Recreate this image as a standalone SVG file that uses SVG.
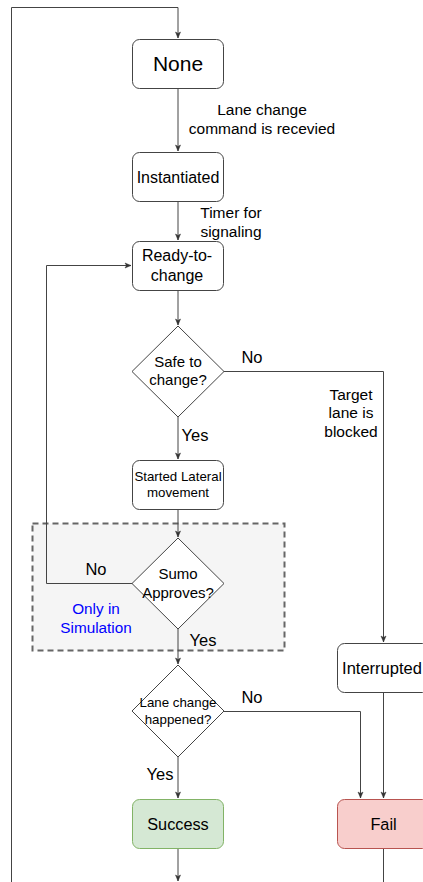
<svg xmlns="http://www.w3.org/2000/svg" width="423" height="882" viewBox="0 0 423 882">
<style>
text{font-family:"Liberation Sans",Arial,sans-serif;fill:#000;text-anchor:middle}
.box{fill:#fff;stroke:#444;stroke-width:1}
.edge{fill:none;stroke:#444;stroke-width:1}
.lbl{font-size:15.5px}
.yn{font-size:16.5px}
</style>
<defs>
<marker id="ah" markerWidth="8" markerHeight="8" refX="7" refY="4" orient="auto" markerUnits="userSpaceOnUse">
<path d="M1,1.5 L7,4 L1,6.5 L2.5,4 Z" fill="#333" stroke="#333" stroke-width="0.5"/>
</marker>
</defs>
<rect x="0" y="0" width="423" height="882" fill="#fff"/>
<g id="sim-region">
<rect x="32.5" y="523.5" width="252" height="127" fill="#f5f5f5" stroke="#666" stroke-width="2" stroke-dasharray="6,4"/>
<text x="96" y="614" style="font-size:15.3px;fill:#0000ff">Only in</text>
<text x="96" y="633" style="font-size:15.3px;fill:#0000ff">Simulation</text>
</g>
<g id="connectors">
<path class="edge" d="M11.5,882 V7.5 H178 V38" marker-end="url(#ah)"/>
<path class="edge" d="M178,88 V151" marker-end="url(#ah)"/>
<path class="edge" d="M178,201 V240" marker-end="url(#ah)"/>
<path class="edge" d="M178,290 V325" marker-end="url(#ah)"/>
<path class="edge" d="M178,417 V459" marker-end="url(#ah)"/>
<path class="edge" d="M178,509 V537" marker-end="url(#ah)"/>
<path class="edge" d="M178,629 V664" marker-end="url(#ah)"/>
<path class="edge" d="M178,757 V798" marker-end="url(#ah)"/>
<path class="edge" d="M178,849 V881" marker-end="url(#ah)"/>
<path class="edge" d="M132,583.5 H46.5 V265.5 H131" marker-end="url(#ah)"/>
<path class="edge" d="M224,371.5 H383.5 V642" marker-end="url(#ah)"/>
<path class="edge" d="M224,711.5 H360.5 V798" marker-end="url(#ah)"/>
<path class="edge" d="M383.5,693 V798" marker-end="url(#ah)"/>
<path class="edge" d="M383.5,849 V882"/>
<text class="lbl" x="262" y="115">Lane change</text>
<text class="lbl" x="262" y="134">command is recevied</text>
<text class="lbl" x="231" y="218">Timer for</text>
<text class="lbl" x="231" y="237">signaling</text>
<text class="yn" x="252" y="363">No</text>
<text class="lbl" x="351" y="400">Target</text>
<text class="lbl" x="351" y="418">lane is</text>
<text class="lbl" x="351" y="437">blocked</text>
<text class="yn" x="195" y="441">Yes</text>
<text class="yn" x="96" y="575">No</text>
<text class="yn" x="203" y="646">Yes</text>
<text class="yn" x="252" y="703">No</text>
<text class="yn" x="160" y="780">Yes</text>
</g>
<g id="none">
<rect class="box" x="132.5" y="39.5" width="91" height="49" rx="7"/>
<text x="178" y="71" style="font-size:21px">None</text>
</g>
<g id="instantiated">
<rect class="box" x="132.5" y="152.5" width="91" height="49" rx="7"/>
<text x="178" y="183" style="font-size:16px">Instantiated</text>
</g>
<g id="ready">
<rect class="box" x="132.5" y="241.5" width="91" height="49" rx="7"/>
<text x="177" y="261" style="font-size:16px">Ready-to-</text>
<text x="177" y="281" style="font-size:16px">change</text>
</g>
<g id="safe">
<path class="box" d="M178,326 L224,371.5 L178,417 L132,371.5 Z"/>
<text x="178" y="367" style="font-size:15px">Safe to</text>
<text x="178" y="385" style="font-size:15px">change?</text>
</g>
<g id="started">
<rect class="box" x="132.5" y="460.5" width="91" height="49" rx="7"/>
<text x="178" y="481" style="font-size:13.3px">Started Lateral</text>
<text x="178" y="497" style="font-size:13.3px">movement</text>
</g>
<g id="sumo">
<path class="box" d="M178,538 L224,583.5 L178,629 L132,583.5 Z"/>
<text x="178" y="579" style="font-size:15px">Sumo</text>
<text x="178" y="598" style="font-size:15px">Approves?</text>
</g>
<g id="happened">
<path class="box" d="M178,665 L224,711 L178,757 L132,711 Z"/>
<text x="178" y="707" style="font-size:13.3px">Lane change</text>
<text x="178" y="724" style="font-size:13.3px">happened?</text>
</g>
<g id="interrupted">
<rect class="box" x="337.5" y="643.5" width="92" height="49" rx="7"/>
<text x="382" y="674" style="font-size:16.5px">Interrupted</text>
</g>
<g id="success">
<rect x="132.5" y="799.5" width="91" height="49" rx="7" fill="#d5e8d4" stroke="#82b366"/>
<text x="178" y="830" style="font-size:16.3px">Success</text>
</g>
<g id="fail">
<rect x="337.5" y="799.5" width="92" height="49" rx="7" fill="#f8cecc" stroke="#b85450"/>
<text x="383.5" y="830" style="font-size:16.3px">Fail</text>
</g>
</svg>
